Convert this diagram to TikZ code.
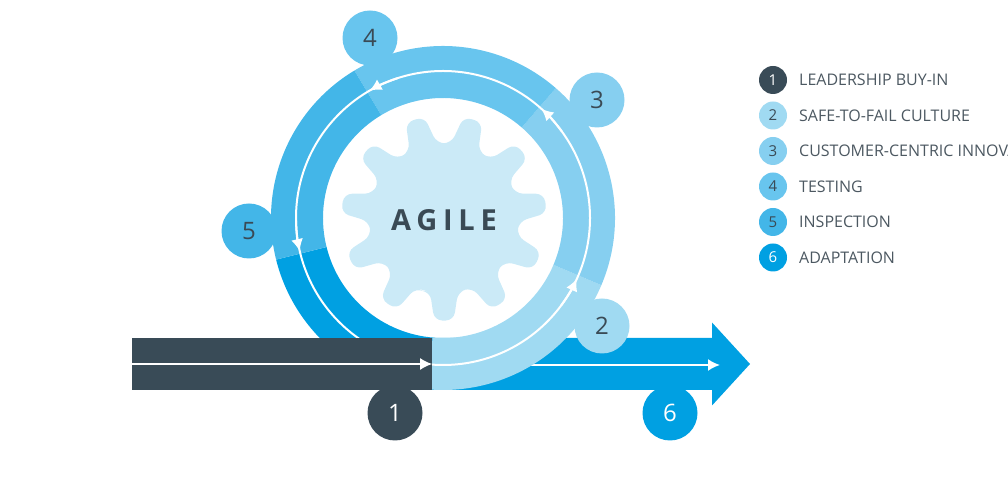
\documentclass[tikz,border=0pt]{standalone}
\usepackage{fontspec}
\setmainfont{Open Sans}
\newfontfamily\agilefont[LetterSpace=20]{Open Sans}
\usetikzlibrary{arrows.meta}
\definecolor{cdark}{HTML}{394B57}
\definecolor{cseg2}{HTML}{A0DAF2}
\definecolor{cseg3}{HTML}{86CFF0}
\definecolor{cseg4}{HTML}{68C5EE}
\definecolor{cseg5}{HTML}{43B6E8}
\definecolor{cseg6}{HTML}{00A0E2}
\definecolor{cgear}{HTML}{CBEAF7}
\definecolor{ctext}{HTML}{4C5861}
\definecolor{cnum}{HTML}{3A4A55}
\newcommand\ringseg[3]{\fill[#1] ([shift={(443,268)}]#2:172) arc[start angle=#2, end angle=#3, radius=172] -- ([shift={(443,268)}]#3:120) arc[start angle=#3, end angle=#2, radius=120] -- cycle;}
\newcommand\ringtip[1]{\draw[wline, whead] ([shift={(443,268)}]#1-12:147) arc[start angle=#1-12, end angle=#1, radius=147];}
\begin{document}
\begin{tikzpicture}[x=1pt,y=1pt,
  bubble/.style={circle, minimum size=55pt, inner sep=0pt, font=\fontsize{24}{24}\selectfont},
  bullet/.style={circle, minimum size=28pt, inner sep=0pt, font=\fontsize{15}{15}\selectfont},
  legtext/.style={anchor=west, inner sep=0pt, text=ctext, font=\fontsize{16}{19}\selectfont},
  wline/.style={draw=white, line width=2pt},
  whead/.style={-{Latex[length=12pt,width=12pt]}},
  barbox/.style={rectangle, fill=cdark, inner sep=0pt, minimum width=300.3pt, minimum height=52pt},
]
\useasboundingbox (0,0) rectangle (1008,486);
\begin{scope}
\clip (0,0) rectangle (1008,486);
\coordinate (C) at (443,268);
\coordinate (G) at (444,268);
% blue arrow (adaptation)
\fill[cseg6] (432,96) -- (712,96) -- (712,80.5) -- (750,122) -- (712,163.5) -- (712,148) -- (432,148) -- cycle;
\coordinate (a6s) at (443,121);
\coordinate (a6e) at (720,121);
\draw[wline, whead] (a6s) -- (a6e);
% ring segments
\ringseg{cseg6}{194}{266}
\ringseg{cseg2}{265}{337}
\ringseg{cseg3}{-23}{49}
\ringseg{cseg4}{49}{121}
\ringseg{cseg5}{121}{194}
% white loop line
\draw[wline] (C) circle[radius=147];
\ringtip{-24.5}
\ringtip{48}
\ringtip{120}
\ringtip{193}
% gear
\fill[cgear, rounded corners=8pt] ([shift={(G)}]253.64:76)
  \foreach \k in {0,...,10} {
    -- ([shift={(G)}]{270+\k*32.7273-10.8}:75)
    -- ([shift={(G)}]{270+\k*32.7273-5.4}:103)
    -- ([shift={(G)}]{270+\k*32.7273+5.4}:103)
    -- ([shift={(G)}]{270+\k*32.7273+10.8}:75)
  } -- cycle;
\node[text=cnum, font=\agilefont\bfseries\fontsize{29}{29}\selectfont] (agile) at (444,266) {AGILE};
% dark bar
\node[barbox] (bar) at (281.85,122) {};
\draw[wline, whead] (bar.west) -- (bar.east);
% bubbles
\node[bubble, fill=cdark, text=white] (b1) at (395,73) {1};
\node[bubble, fill=cseg2, text=cnum] (b2) at (602,160) {2};
\node[bubble, fill=cseg3, text=cnum] (b3) at (597,386) {3};
\node[bubble, fill=cseg4, text=cnum] (b4) at (370,448) {4};
\node[bubble, fill=cseg5, text=cnum] (b5) at (249,255) {5};
\node[bubble, fill=cseg6, text=white] (b6) at (670,73) {6};
% legend
\node[bullet, fill=cdark, text=white] (l1) at (773,406) {1};
\node[bullet, fill=cseg2, text=cnum] (l2) at (773,370.5) {2};
\node[bullet, fill=cseg3, text=cnum] (l3) at (773,335) {3};
\node[bullet, fill=cseg4, text=cnum] (l4) at (773,299.5) {4};
\node[bullet, fill=cseg5, text=cnum] (l5) at (773,264) {5};
\node[bullet, fill=cseg6, text=white] (l6) at (773,228.5) {6};
\node[legtext] (t1) at (799,406) {LEADERSHIP BUY-IN};
\node[legtext] (t2) at (799,370.5) {SAFE-TO-FAIL CULTURE};
\node[legtext] (t3) at (799,335) {CUSTOMER-CENTRIC INNOVATION};
\node[legtext] (t4) at (799,299.5) {TESTING};
\node[legtext] (t5) at (799,264) {INSPECTION};
\node[legtext] (t6) at (799,228.5) {ADAPTATION};
\end{scope}
\end{tikzpicture}
\end{document}
